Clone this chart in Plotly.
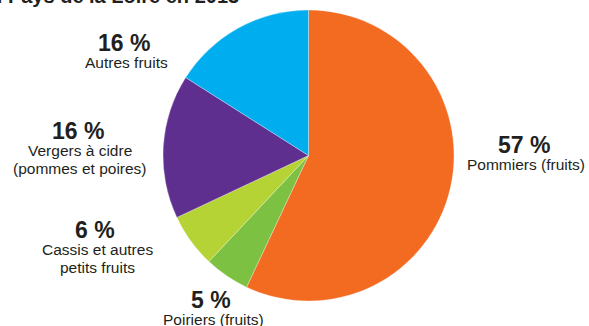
import plotly.graph_objects as go

W, H = 589, 326

# Data
categories = ["Pommiers (fruits)", "Poiriers (fruits)", "Cassis et autres<br>petits fruits",
              "Vergers à cidre<br>(pommes et poires)", "Autres fruits"]
values = [57, 5, 6, 16, 16]
colors = ["#F26B21", "#7CC142", "#B5D334", "#5F2F8F", "#00AEEF"]
title_text = "en Pays de la Loire en 2013"

# label anchor positions in pixels (center of percentage line)
label_pos = [(524, 145), (211, 300), (95, 230), (78, 131), (124, 43)]

def px(x):
    return x / W

def py(y):
    return 1 - y / H

cx, cy, r = 308.5, 155.5, 145.5

fig = go.Figure(go.Pie(
    labels=[c.replace("<br>", " ") for c in categories],
    values=values,
    sort=False,
    direction="clockwise",
    rotation=0,
    marker=dict(colors=colors, line=dict(color="white", width=0.3)),
    textinfo="none",
    hoverinfo="label+percent",
    showlegend=False,
    domain=dict(x=[px(cx - r), px(cx + r)], y=[py(cy + r), py(cy - r)]),
))

font_family = "Liberation Sans, Arial, Helvetica, sans-serif"
ann = []
for cat, v, (x, y) in zip(categories, values, label_pos):
    ann.append(dict(x=px(x), y=py(y), xref="paper", yref="paper", showarrow=False,
                    text=f"<b>{v} %</b>", xanchor="center", yanchor="middle",
                    font=dict(family=font_family, size=23, color="#231F20")))
    lines = cat.split("<br>")
    for i, line in enumerate(lines):
        ann.append(dict(x=px(x + 2), y=py(y + 19 + 18.5 * i), xref="paper", yref="paper",
                        showarrow=False, text=line, xanchor="center", yanchor="middle",
                        font=dict(family=font_family, size=15.5, color="#231F20")))

ann.append(dict(x=px(241), y=py(-4), xref="paper", yref="paper", showarrow=False,
                text=f"<b>{title_text}</b>", xanchor="right", yanchor="middle",
                font=dict(family=font_family, size=20, color="#231F20")))

fig.update_layout(
    width=W, height=H,
    margin=dict(l=0, r=0, t=0, b=0),
    paper_bgcolor="white", plot_bgcolor="white",
    annotations=ann,
)

fig.write_html("out.html", config={"displayModeBar": False},
               post_script="document.body.style.margin='0px';document.body.style.padding='0px';")
